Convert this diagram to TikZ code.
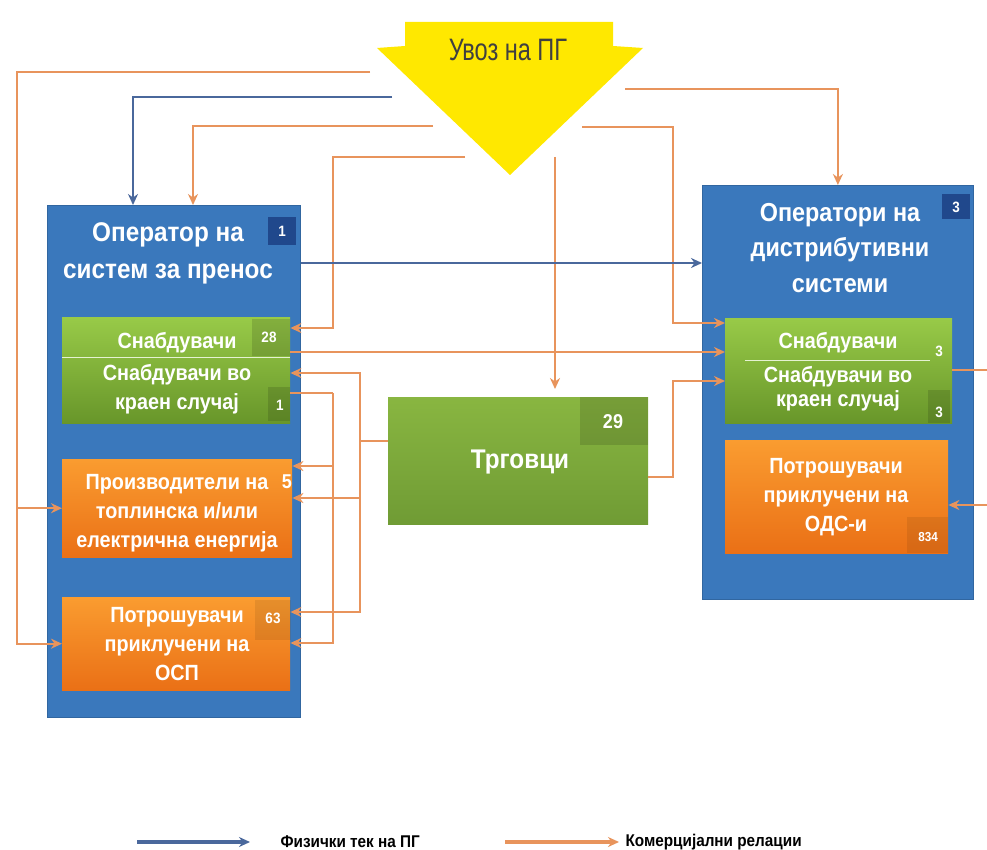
\documentclass[tikz,border=0pt]{standalone}
\usepackage{fontspec}
\setmainfont{Liberation Sans}[FakeStretch=0.9]
\newfontfamily\narrowsf{Liberation Sans}[FakeStretch=0.76]
\usetikzlibrary{arrows.meta, positioning}

\definecolor{opblue}{RGB}{58,120,188}
\definecolor{opbadge}{RGB}{32,72,140}
\definecolor{grntop}{RGB}{152,202,72}
\definecolor{grnbot}{RGB}{104,150,42}
\definecolor{orgtop}{RGB}{250,156,48}
\definecolor{orgbot}{RGB}{234,112,22}
\definecolor{impyellow}{RGB}{255,232,0}
\definecolor{commline}{RGB}{232,148,92}
\definecolor{physline}{RGB}{74,104,156}

\begin{document}
\begin{tikzpicture}[
    x=1pt, y=-1pt,
    >={Stealth[length=11pt, width=10pt]},
    comm/.style={draw=commline, line width=2pt, ->},
    phys/.style={draw=physline, line width=2pt, ->},
    opbox/.style={fill=opblue, draw=opblue!85!black, line width=0.8pt, inner sep=0pt, anchor=north west},
    grnbox/.style={top color=grntop, bottom color=grnbot, inner sep=0pt, anchor=north west},
    orgbox/.style={top color=orgtop, bottom color=orgbot, inner sep=0pt, anchor=north west},
    patch/.style={fill=black, fill opacity=0.13, inner sep=0pt, anchor=north west},
    ttl/.style={text=white, font=\fontsize{27}{37}\selectfont\bfseries, align=center},
    txt/.style={text=white, font=\fontsize{22}{29}\selectfont\bfseries, align=center},
    num/.style={text=white, font=\fontsize{15}{16}\selectfont\bfseries},
    legtxt/.style={font=\fontsize{17}{18}\selectfont\bfseries, anchor=west},
]
\useasboundingbox[fill=white] (0,0) rectangle (987,850);
% === Import arrow ===
\fill[impyellow] (405,22) -- (613,22) -- (613,46) -- (643,48) -- (510,175)
    -- (377,48) -- (405,46) -- cycle;
\node[font=\narrowsf\fontsize{31}{31}\selectfont, text=black!75] (imp) at (508,50) {Увоз на ПГ};
%
% === Transmission system operator ===
\node[opbox, minimum width=253pt, minimum height=512pt] (tso) at (47,205) {};
\node[ttl] (tsot) at (168,253) {Оператор на\\систем за пренос};
\node[num, fill=opbadge, minimum width=28pt, minimum height=28pt] (b1) at (282,231) {1};
%
\node[grnbox, minimum width=228pt, minimum height=106pt] (grn1) at (62,317) {};
\draw[white!75!grntop, line width=1pt] (grn1.west |- 0,357) -- (grn1.east |- 0,357);
\node[patch, minimum width=38pt, minimum height=37pt] (p28) at (252,319) {};
\node[patch, minimum width=22pt, minimum height=34pt] (p1) at (268,387) {};
\node[txt] (sup1) at (177,343) {Снабдувачи};
\node[txt] (lrs1) at (177,389) {Снабдувачи во\\краен случај};
\node[num] (n28) at (269,337) {28};
\node[num] (n1) at (280,405) {1};
%
\node[orgbox, minimum width=230pt, minimum height=98pt] (prod) at (62,459) {};
\node[txt] (prodt) at (177,513) {Производители на\\топлинска и/или\\електрична енергија};
\node[num, font=\fontsize{20}{20}\selectfont\bfseries] (n5) at (287,482) {5};
%
\node[orgbox, minimum width=228pt, minimum height=93pt] (cons1) at (62,597) {};
\node[patch, minimum width=36pt, minimum height=40pt, fill opacity=0.08] (p63) at (255,600) {};
\node[txt] (cons1t) at (177,644) {Потрошувачи\\приклучени на\\ОСП};
\node[num] (n63) at (273,618) {63};
%
% === Distribution system operators ===
\node[opbox, minimum width=271pt, minimum height=414pt] (dso) at (702,185) {};
\node[ttl, font=\fontsize{26}{35.5}\selectfont\bfseries] (dsot) at (840,248) {Оператори на\\дистрибутивни\\системи};
\node[num, fill=opbadge, minimum width=28pt, minimum height=25pt] (b3) at (956,207) {3};
%
\node[grnbox, minimum width=227pt, minimum height=105pt] (grn2) at (725,318) {};
\draw[white!75!grntop, line width=1pt] (745,360) -- (930,360);
\node[patch, minimum width=22pt, minimum height=33pt] (p3) at (928,390) {};
\node[txt] (sup2) at (838,343) {Снабдувачи};
\node[txt, font=\fontsize{22}{24}\selectfont\bfseries] (lrs2) at (838,389) {Снабдувачи во\\краен случај};
\node[num] (n3a) at (939,351) {3};
\node[num] (n3b) at (939,412) {3};
%
\node[orgbox, minimum width=223pt, minimum height=113pt] (cons2) at (725,440) {};
\node[patch, minimum width=41pt, minimum height=36pt, fill opacity=0.08] (p834) at (907,517) {};
\node[txt] (cons2t) at (836,497) {Потрошувачи\\приклучени на\\ОДС-и};
\node[num, font=\fontsize{13}{14}\selectfont\bfseries] (n834) at (928,537) {834};
%
% === Traders ===
\node[grnbox, top color=grntop!90!black, bottom color=grnbot!95!white, minimum width=260pt, minimum height=127pt] (trader) at (388,397) {};
\node[patch, minimum width=68pt, minimum height=48pt] (p29) at (580,397) {};
\node[ttl] (tradert) at (520,462) {Трговци};
\node[num, font=\fontsize{20}{20}\selectfont\bfseries] (n29) at (613,422) {29};
%
% === Connectors from the import ===
\coordinate (i1) at (370,72);
\coordinate (i2) at (392,97);
\coordinate (i3) at (433,126);
\coordinate (i4) at (465,157);
\coordinate (i5) at (625,89);
\coordinate (i6) at (582,127);
\coordinate (i7) at (555,157);
\coordinate (c1) at (17,72);
\draw[comm] (i1) -- (c1) |- (prod.west);
\draw[comm] (c1) |- (cons1.west);
\draw[phys] (i2) -| ([xshift=86pt]tso.north west);
\draw[comm] (i3) -| ([xshift=146pt]tso.north west);
\coordinate (c4) at (333,328);
\draw[comm] (i4) -| (c4) -- (c4 -| grn1.east);
\draw[comm] (i5) -| (dso.north);
\coordinate (c6) at (673,323);
\draw[comm] (i6) -| (c6) -- (c6 -| grn2.west);
\draw[comm, shorten >=8pt] (i7) -- (i7 |- trader.north);
%
% === Connectors between the operators ===
\draw[phys] (tso.east |- 0,263) -- (dso.west |- 0,263);
\draw[comm] (grn1.east |- 0,352) -- (grn2.west |- 0,352);
%
% === Traders and last resort suppliers ===
\coordinate (c10) at (360,441);
\coordinate (t1) at (360,373);
\draw[comm] (c10 -| trader.west) -| (t1) -- (t1 -| grn1.east);
\draw[comm] (t1) |- (prod.east |- 0,498);
\draw[comm] (t1) |- (cons1.east |- 0,612);
\coordinate (s1) at (333,393);
\draw[comm, -] (s1 -| grn1.east) -- (s1);
\draw[comm] (s1) |- (prod.east |- 0,466);
\draw[comm] (s1) |- (cons1.east |- 0,643);
\coordinate (c12) at (673,381);
\draw[comm] (trader.east |- 0,477) -| (c12) -- (c12 -| grn2.west);
%
% === Off to the right ===
\coordinate (e1) at (987,370);
\coordinate (e2) at (987,505);
\draw[comm, -] (e1 -| grn2.east) -- (e1);
\draw[comm] (e2) -- (e2 -| cons2.east);
%
% === Legend ===
\node[legtxt] (lg1) at (277,842) {Физички тек на ПГ};
\node[legtxt] (lg2) at (622,842) {Комерцијални релации};
\coordinate (l1) at (137,842);
\coordinate (l2) at (505,842);
\draw[phys, line width=3.5pt] (l1) -- ([xshift=-27pt]lg1.west);
\draw[comm, line width=3.5pt] (l2) -- ([xshift=-3pt]lg2.west);
\end{tikzpicture}
\end{document}
